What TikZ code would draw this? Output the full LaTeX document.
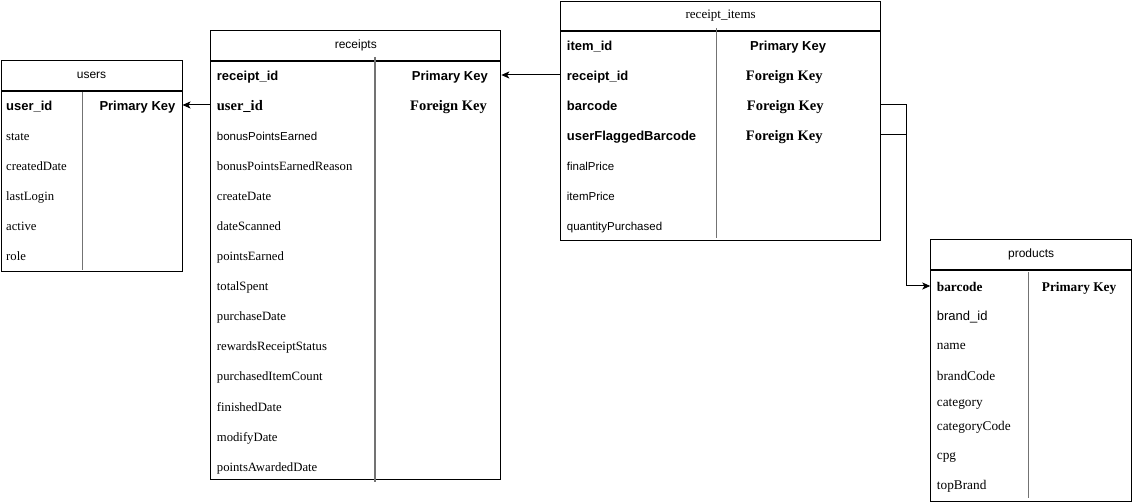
\documentclass[tikz,border=0pt]{standalone}
\usepackage{fontspec}
\setmainfont{Liberation Serif}
\setsansfont{Liberation Sans}
\usetikzlibrary{arrows.meta}

\begin{document}
\begin{tikzpicture}[
    x=1pt, y=-1pt,
    tbl/.style={draw, line width=1pt, inner sep=0pt, anchor=north west},
    hds/.style={tbl, font=\sffamily\fontsize{12}{14}\selectfont},
    hdr/.style={tbl, font=\rmfamily\fontsize{13}{15}\selectfont},
    fld/.style={anchor=west, inner sep=0pt, text height=12pt, text depth=0pt},
    fs/.style={fld, font=\sffamily\fontsize{11.5}{14}\selectfont},
    fr/.style={fld, font=\rmfamily\fontsize{12.7}{15}\selectfont},
    prs/.style={fld, font=\sffamily\fontsize{13}{15}\selectfont},
    prr/.style={fld, font=\rmfamily\fontsize{13.3}{16}\selectfont},
    ks/.style={fld, font=\sffamily\bfseries\fontsize{13}{15}\selectfont},
    kr/.style={fld, font=\rmfamily\bfseries\fontsize{14.5}{17}\selectfont},
    prk/.style={fld, font=\rmfamily\bfseries\fontsize{13.3}{16}\selectfont},
    divider/.style={draw=black!55, line width=1.2pt},
    link/.style={draw, line width=1pt, -{Stealth[length=8pt, width=7pt, inset=2pt]}}
]
    \useasboundingbox (0,0) rectangle (1132,502);

    % users
    \node[hds, minimum width=181pt, minimum height=30pt] (us-t) at (0.5,60) {users};
    \node[tbl, minimum width=181pt, minimum height=180.5pt, anchor=north] (us-b) at (us-t.south) {};
    \draw[divider] (82.7,92) -- (82.7,270);
    \node[ks] (us-uid) at (6,105) {user\_id};
    \node[ks] (us-pk) at (99.3,105) {Primary Key};
    \foreach \f [count=\i] in {state, createdDate, lastLogin, active, role}
        \node[fr] (us-\i) at (6,105+30*\i) {\f};

    % receipts
    \node[hds, minimum width=290pt, minimum height=29.7pt] (rc-t) at (210.3,30.3) {receipts};
    \node[tbl, minimum width=290pt, minimum height=418pt, anchor=north] (rc-b) at (rc-t.south) {};
    \draw[divider] (375,57) -- (375,482);
    \node[ks] (rc-rid) at (216.7,75) {receipt\_id};
    \node[ks] (rc-pk) at (411.7,75) {Primary Key};
    \node[kr] (rc-uid) at (216.7,105) {user\_id};
    \node[kr] (rc-fk) at (410,105) {Foreign Key};
    \foreach \f/\s [count=\i] in {bonusPointsEarned/fs, bonusPointsEarnedReason/fr,
        createDate/fr, dateScanned/fr, pointsEarned/fr, totalSpent/fr, purchaseDate/fr,
        rewardsReceiptStatus/fr, purchasedItemCount/fr, finishedDate/fr, modifyDate/fr,
        pointsAwardedDate/fr}
        \node[\s] (rc-\i) at (216.7,105+30*\i) {\f};

    % receipt_items
    \node[hdr, minimum width=319.7pt, minimum height=29.3pt] (ri-t) at (560.3,0.7) {receipt\_items};
    \node[tbl, minimum width=319.7pt, minimum height=209.3pt, anchor=north] (ri-b) at (ri-t.south) {};
    \draw[divider] (716.7,28) -- (716.7,238);
    \node[ks] (ri-iid) at (566.7,45) {item\_id};
    \node[ks] (ri-pk) at (750,45) {Primary Key};
    \node[ks] (ri-rid) at (566.7,75) {receipt\_id};
    \node[kr] (ri-fk1) at (745.7,75) {Foreign Key};
    \node[ks] (ri-bc) at (566.7,105) {barcode};
    \node[kr] (ri-fk2) at (746.7,105) {Foreign Key};
    \node[ks] (ri-ufb) at (566.7,135) {userFlaggedBarcode};
    \node[kr] (ri-fk3) at (745.7,135) {Foreign Key};
    \foreach \f [count=\i] in {finalPrice, itemPrice, quantityPurchased}
        \node[fs] (ri-\i) at (566.7,135+30*\i) {\f};

    % products
    \node[hds, minimum width=200.7pt, minimum height=30.3pt] (pr-t) at (930.3,239) {products};
    \node[tbl, minimum width=200.7pt, minimum height=230.7pt, anchor=north] (pr-b) at (pr-t.south) {};
    \draw[divider] (1028.3,272) -- (1028.3,498);
    \node[prk] (pr-bc) at (936.7,286) {barcode};
    \node[prk] (pr-pk) at (1041.7,286) {Primary Key};
    \node[prs] (pr-bid) at (936.7,315) {brand\_id};
    \foreach \f/\y [count=\i] in {name/344, brandCode/375, category/400,
        categoryCode/424, cpg/453, topBrand/483}
        \node[prr] (pr-\i) at (936.7,\y) {\f};

    % links
    \draw[link] (rc-uid.west -| rc-b.west) -- (us-uid.west -| us-b.east);
    \draw[link] (ri-rid.west -| ri-b.west) -- (rc-rid.west -| rc-b.east);
    \draw[link] (ri-bc.west -| ri-b.east) -- ++(25,0) |- (pr-bc.west -| pr-b.west);
    \draw[line width=1pt] (ri-ufb.west -| ri-b.east) -- ++(25,0);
\end{tikzpicture}
\end{document}
